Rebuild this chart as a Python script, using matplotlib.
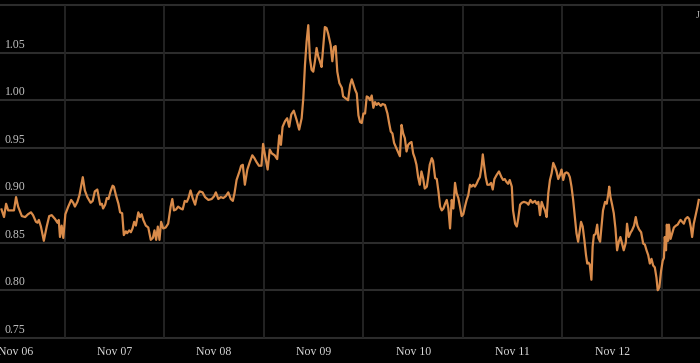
import matplotlib
matplotlib.use("Agg")
import matplotlib.pyplot as plt
from matplotlib.transforms import blended_transform_factory

# hours since Nov 06 00:00 and the exchange rate
hours = [
    -3.3, -2.7, -2.2, -1.7, -0.8, -0.3, 0.2, 0.7, 1.6, 2.4, 3.1, 3.8, 4.3, 5.0, 5.4, 5.7, 6.2, 6.9, 7.6, 8.2,
    8.8, 9.6, 10.2, 10.5, 10.8, 11.2, 11.6, 12.1, 12.8, 13.5, 14.0, 14.4, 15.0, 15.5, 16.3, 16.8, 17.4, 18.2,
    18.7, 19.2, 19.8, 20.5,
    20.9, 21.2, 21.7, 22.1, 22.5, 23.0, 23.5, 23.8, 24.3, 24.9, 25.3, 25.8, 26.2, 26.7, 27.0, 27.5, 27.9, 28.3,
    28.7, 29.1, 29.7, 30.1, 30.5, 30.9, 31.5, 32.1, 32.7, 33.2, 33.6, 34.0, 34.4, 34.8, 35.2, 35.7, 36.3, 36.9,
    37.5, 37.9, 38.3, 38.8, 39.3, 39.9, 40.4, 40.9, 41.4, 41.8, 42.3, 42.8, 43.4, 43.9, 44.5,
    45.2, 45.8, 46.6, 47.4, 48.0, 48.4, 49.0, 49.6, 50.2, 50.8, 51.4, 52.0, 52.5, 52.9, 53.4, 54.1, 54.5, 54.9,
    55.4, 56.0, 56.6, 57.2, 57.7, 58.2, 58.8, 59.4, 59.8, 60.3, 60.9, 61.4, 61.9, 62.6, 63.2, 63.7, 64.1, 64.5,
    65.1, 65.6, 66.1, 66.6, 67.2, 67.9, 68.5,
    69.1, 69.5, 69.9, 70.3, 70.7, 71.1, 71.5, 71.9, 72.3, 72.7, 73.1, 73.5, 73.9, 74.3, 74.7, 75.1, 75.5, 76.1,
    76.5, 76.9, 77.3, 77.7, 78.2, 78.8, 79.1, 79.7, 80.3, 80.8, 81.2, 81.5, 82.0, 82.4, 82.8, 83.2, 83.6, 84.0,
    84.4, 84.8, 85.2, 85.6, 86.0, 86.4, 86.8, 87.2, 87.6, 88.2, 88.6, 89.2, 89.8, 90.2, 90.6, 91.0, 91.4,
    92.8, 93.2, 93.6, 94.0, 94.4, 94.8, 95.2, 95.6, 96.0, 96.4, 96.8, 97.2, 97.6, 98.0, 98.4, 98.8, 99.3, 99.6,
    100.0, 100.5, 100.8, 101.3, 101.7, 102.1, 102.5, 102.9, 103.3, 103.7, 104.1, 104.5, 104.9, 105.3, 105.7,
    106.1, 106.5, 106.9, 107.3, 107.7, 108.1, 108.5, 108.9, 109.3, 109.7, 110.1, 110.5, 110.9, 111.3, 111.7,
    112.1, 112.5, 112.8, 113.1, 113.5, 113.9, 114.4, 114.8, 115.2, 115.6, 116.1, 116.7,
    117.3, 117.7, 118.1, 118.5, 118.9, 119.3, 119.8, 120.1, 120.6, 121.0, 121.3, 121.8, 122.2, 122.7, 123.4,
    123.8, 124.3, 124.8, 125.4, 125.8, 126.2, 126.6, 127.0, 127.4, 127.8, 128.2, 128.6, 129.0, 129.4, 129.8,
    130.2, 130.6, 131.0, 131.4, 131.8, 132.2, 132.6, 133.0, 133.4, 133.8, 134.2, 134.6, 135.0, 135.4, 135.8,
    136.2, 136.5, 136.9, 137.3, 137.7, 138.0, 138.3, 138.6, 139.0, 139.3, 139.6, 140.0, 140.4, 140.7,
    141.1, 141.5, 141.8, 142.3, 142.7, 143.1, 143.3, 143.6, 144.0, 144.4, 144.8, 145.2, 145.6, 146.0, 146.4,
    146.8, 147.3, 147.6, 148.0, 148.5, 148.8, 149.3, 149.7, 150.1, 150.5, 151.0, 151.5, 151.9, 152.3, 152.7,
    153.1, 153.5, 153.9, 154.3, 154.7, 155.0, 155.4, 155.8, 156.2, 156.5, 156.7, 157.0, 157.2, 157.5, 157.7,
    158.1, 158.5, 158.9, 159.4, 159.8, 160.2, 160.5, 160.9, 161.3, 161.7, 162.2, 162.6, 163.0, 163.3, 163.7,
    164.2, 164.6, 164.9,
]
rate = [
    0.885, 0.877, 0.891, 0.884, 0.884, 0.884, 0.898, 0.888, 0.878, 0.877, 0.880, 0.882, 0.879, 0.872, 0.871,
    0.874, 0.867, 0.852, 0.867, 0.878, 0.879, 0.875, 0.871, 0.874, 0.856, 0.868, 0.855, 0.880, 0.888, 0.895,
    0.892, 0.888, 0.893, 0.900, 0.919, 0.905, 0.898, 0.892, 0.894, 0.904, 0.906, 0.890,
    0.891, 0.886, 0.890, 0.897, 0.896, 0.904, 0.910, 0.909, 0.900, 0.891, 0.882, 0.881, 0.858, 0.862, 0.860,
    0.863, 0.861, 0.865, 0.872, 0.868, 0.882, 0.877, 0.880, 0.874, 0.868, 0.866, 0.853, 0.855, 0.863, 0.853,
    0.867, 0.853, 0.872, 0.865, 0.866, 0.870, 0.888, 0.896, 0.884, 0.885, 0.888, 0.886, 0.885, 0.894, 0.893,
    0.897, 0.905, 0.897, 0.890, 0.900, 0.904,
    0.903, 0.898, 0.895, 0.896, 0.899, 0.903, 0.896, 0.898, 0.897, 0.899, 0.903, 0.896, 0.894, 0.902, 0.916,
    0.925, 0.931, 0.932, 0.911, 0.927, 0.935, 0.942, 0.939, 0.935, 0.931, 0.931, 0.954, 0.941, 0.927, 0.948,
    0.944, 0.942, 0.938, 0.963, 0.953, 0.972, 0.978, 0.981, 0.972, 0.985, 0.989, 0.979, 0.969,
    0.981, 1.002, 1.037, 1.062, 1.079, 1.044, 1.032, 1.030, 1.041, 1.055, 1.046, 1.041, 1.035, 1.056, 1.077,
    1.076, 1.070, 1.058, 1.041, 1.056, 1.057, 1.030, 1.018, 1.013, 1.004, 1.002, 1.000, 1.016, 1.022, 1.018,
    1.011, 1.007, 0.984, 0.977, 0.976, 0.986, 0.986, 1.004, 1.003, 1.000, 1.005, 0.992, 0.998, 0.995, 0.997,
    0.994, 0.996, 0.995, 0.986, 0.976, 0.967, 0.965, 0.955,
    0.941, 0.974, 0.965, 0.960, 0.946, 0.953, 0.955, 0.956, 0.944, 0.939, 0.932, 0.919, 0.911, 0.925, 0.918,
    0.907, 0.909, 0.918, 0.932, 0.939, 0.936, 0.918, 0.917, 0.904, 0.888, 0.884, 0.886, 0.891, 0.895, 0.886,
    0.865, 0.895, 0.886, 0.913, 0.902, 0.897, 0.888, 0.878, 0.880, 0.888, 0.895, 0.900, 0.911, 0.909, 0.911,
    0.909, 0.912, 0.916, 0.919, 0.930, 0.943, 0.932, 0.919, 0.911, 0.911, 0.913, 0.906, 0.917, 0.921, 0.925,
    0.919, 0.916, 0.917, 0.914, 0.912, 0.916, 0.909, 0.884, 0.870, 0.867, 0.874, 0.890, 0.892, 0.893, 0.892,
    0.890, 0.895, 0.892, 0.894, 0.891, 0.893, 0.879, 0.893, 0.888, 0.884, 0.877, 0.902, 0.916, 0.923, 0.934,
    0.930, 0.925, 0.917, 0.921, 0.927, 0.916, 0.923, 0.924, 0.923, 0.919, 0.909, 0.895, 0.877, 0.860, 0.851,
    0.863, 0.872, 0.867, 0.853, 0.837, 0.828, 0.829, 0.827, 0.811, 0.846, 0.858, 0.859, 0.869, 0.855,
    0.851, 0.870, 0.884, 0.893, 0.891, 0.902, 0.909, 0.898, 0.890, 0.881, 0.865, 0.842, 0.851, 0.856, 0.849,
    0.842, 0.850, 0.870, 0.856, 0.861, 0.863, 0.868, 0.877, 0.868, 0.864, 0.861, 0.849, 0.848, 0.842, 0.837,
    0.828, 0.833, 0.826, 0.824, 0.813, 0.800, 0.803, 0.820, 0.831, 0.834, 0.856, 0.842, 0.869, 0.852, 0.869,
    0.854, 0.860, 0.866, 0.868, 0.869, 0.872, 0.874, 0.872, 0.870, 0.875, 0.877, 0.875, 0.866, 0.856, 0.870,
    0.880, 0.888, 0.895,
]

day_labels = ["Nov 06", "Nov 07", "Nov 08", "Nov 09", "Nov 10", "Nov 11", "Nov 12"]
y_ticks = [0.75, 0.80, 0.85, 0.90, 0.95, 1.00, 1.05, 1.10]
y_labels = ["0.75", "0.80", "0.85", "0.90", "0.95", "1.00", "1.05"]

plt.rcParams['font.family'] = ['Liberation Serif', 'DejaVu Serif']

fig = plt.figure(figsize=(7, 3.63), dpi=100, facecolor='black')
ax = fig.add_axes([0, 25.3 / 363, 1, 332.5 / 363])
ax.set_facecolor('black')

ax.set_xlim(-3.67, 165.2)
ax.set_ylim(0.75, 1.10)

# grid: horizontal at every tick, vertical at noon of each day
for v in y_ticks:
    ax.axhline(v, color='#2c2c2c', lw=1.5, clip_on=False, zorder=1)
for i in range(len(day_labels)):
    ax.axvline(12 + 24 * i, color='#262626', lw=1.3, zorder=1)

ax.plot(hours, rate, color='#d98b4a', lw=1.6, zorder=3)

trans = blended_transform_factory(ax.transAxes, ax.transData)
for v, s in zip(y_ticks, y_labels):
    ax.annotate(s, (0.007, v), xycoords=trans, xytext=(0, 1.5), textcoords='offset points',
                ha='left', va='bottom', color='#c4c4c4', fontsize=8.5)

ax.set_xticks([24 * i for i in range(len(day_labels))])
ax.set_xticklabels(day_labels)
ax.set_yticks([])
ax.tick_params(axis='x', length=0, pad=6, labelsize=8.5, labelcolor='#d8d8d8')
for sp in ax.spines.values():
    sp.set_visible(False)

fig.text(0.994, 0.958, "J", color='#bbbbbb', fontsize=7, ha='left', va='center')

fig.savefig("out.png", dpi=100, facecolor='black')
